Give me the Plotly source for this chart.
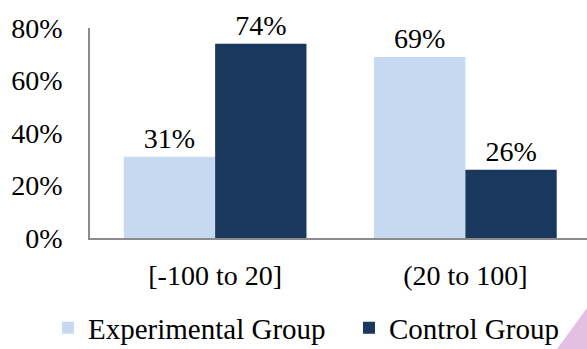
import plotly.graph_objects as go

categories = ["[-100 to 20]", "(20 to 100]"]
series_names = ["Experimental Group", "Control Group"]
experimental = [31, 69]
control = [74, 26]
y_ticks = [0, 20, 40, 60, 80]
y_tick_labels = ["0%", "20%", "40%", "60%", "80%"]

W, H = 587, 349
FONT = "Liberation Serif, Times New Roman, serif"
FS = 28

fig = go.Figure()
for i, (name, vals, color) in enumerate([(series_names[0], experimental, "#c6d9f1"),
                                         (series_names[1], control, "#1a375e")]):
    fig.add_trace(go.Bar(
        x=categories, y=vals, name=name,
        marker=dict(color=color, line=dict(width=0)),
        text=[f"{v}%" for v in vals], textposition="outside",
        textfont=dict(family=FONT, size=FS, color="#000000"),
        cliponaxis=False,
        legend="legend" if i == 0 else "legend2",
    ))

leg_common = dict(orientation="h", xref="container", yref="container",
                  xanchor="left", y=(H - 328) / H, yanchor="middle",
                  font=dict(family=FONT, size=29, color="#000000"),
                  bgcolor="rgba(0,0,0,0)")

fig.update_layout(
    width=W, height=H,
    margin=dict(l=90, r=0, t=28, b=111, autoexpand=False),
    paper_bgcolor="white", plot_bgcolor="white",
    barmode="group", bargap=0.27, bargroupgap=0,
    font=dict(family=FONT, size=FS, color="#000000"),
    showlegend=True,
    legend=dict(x=48 / W, **leg_common),
    legend2=dict(x=349 / W, **leg_common),
)

# decorative pink corner (pixel -> paper fraction conversion)
def px(xp, yp):
    dom_l, dom_w = 90, W - 90
    dom_b, dom_h = 111, H - 28 - 111
    return (xp - dom_l) / dom_w, ((H - yp) - dom_b) / dom_h

p1 = px(557, 349); p2 = px(587, 308); p3 = px(587, 349)
fig.add_shape(type="path", xref="paper", yref="paper",
              path=f"M {p1[0]} {p1[1]} L {p2[0]} {p2[1]} L {p3[0]} {p3[1]} Z",
              fillcolor="#e3c0e3", line=dict(width=0), layer="below")

fig.update_xaxes(range=[-0.5, 1.486], showline=True, linecolor="#8c8c8c", linewidth=1.5,
                 ticks="", showgrid=False, zeroline=False,
                 tickfont=dict(family=FONT, size=FS, color="#000000"),
                 ticklabelstandoff=12)
fig.update_yaxes(range=[0, 80], showline=True, linecolor="#8c8c8c", linewidth=1.5,
                 tickvals=y_ticks, ticktext=y_tick_labels, ticks="",
                 showgrid=False, zeroline=False,
                 tickfont=dict(family=FONT, size=FS, color="#000000"),
                 ticklabelstandoff=20)

fig.write_html("out.html")
